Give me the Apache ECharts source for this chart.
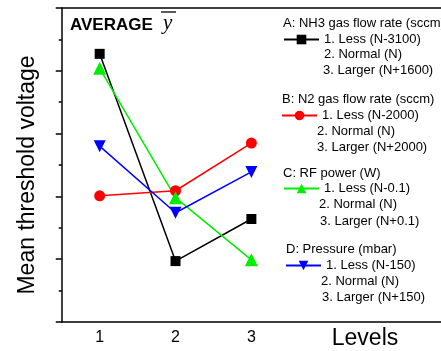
<!DOCTYPE html>
<html>
<head>
<meta charset="utf-8">
<script src="https://cdn.jsdelivr.net/npm/echarts@6/dist/echarts.min.js"></script>
<style>
  html, body { margin: 0; padding: 0; background: #fff; }
  #chart { width: 441px; height: 351px; }
</style>
</head>
<body>
<div id="chart"></div>
<script>
// levels on the x axis (4 and 5 have no label, only ticks)
const levels = ['1', '2', '3', '4', '5']
const levelLabels = ['1', '2', '3', '', '']

// mean threshold voltage per factor (arbitrary units)
const nh3Flow = [4.27, 0.97, 1.64]
const n2Flow = [2.01, 2.09, 2.85]
const rfPower = [4.04, 1.98, 0.99]
const pressure = [2.80, 1.74, 2.39]

const factorNames = ['A: NH3 gas flow rate (sccm)', 'B: N2 gas flow rate (sccm)', 'C: RF power (W)', 'D: Pressure (mbar)']
const levelTexts = [
  ['1. Less (N-3100)', '2. Normal (N)', '3. Larger (N+1600)'],
  ['1. Less (N-2000)', '2. Normal (N)', '3. Larger (N+2000)'],
  ['1. Less (N-0.1)', '2. Normal (N)', '3. Larger (N+0.1)'],
  ['1. Less (N-150)', '2. Normal (N)', '3. Larger (N+150)']
]

const font = 'Liberation Sans, Arial, sans-serif'
const chart = echarts.init(document.getElementById('chart'))

function text (str, x, y, size, extra) {
  return {
    type: 'text',
    x: x,
    y: y,
    silent: true,
    style: Object.assign({
      text: str,
      fill: '#000',
      fontSize: size,
      fontFamily: font,
      verticalAlign: 'middle'
    }, extra || {})
  }
}

// legend block positions: heading, icon, line 2, line 3
const legendPos = [
  { hx: 283, hy: 23, ix: 283, iy: 39, l2: [324, 54], l3: [323, 70] },
  { hx: 282, hy: 99, ix: 281, iy: 115, l2: [317, 131], l3: [317, 147] },
  { hx: 283, hy: 173, ix: 283, iy: 188, l2: [319, 204], l3: [320, 221] },
  { hx: 286, hy: 249, ix: 285, iy: 265, l2: [321, 281], l3: [322, 297] }
]

const seriesNames = ['A', 'B', 'C', 'D']

const graphics = [
  text('AVERAGE', 70, 25, 17, { fontWeight: 'bold' }),
  text('y', 163, 23, 21, { fontFamily: 'Liberation Serif, serif', fontStyle: 'italic' }),
  { type: 'line', silent: true, shape: { x1: 161, y1: 12, x2: 176, y2: 12 }, style: { stroke: '#000', lineWidth: 1.3 } },
  text('Mean threshold voltage', 28, 175, 23, { align: 'center' }),
  text('Levels', 365, 339, 23, { align: 'center' })
]
graphics[3].rotation = Math.PI / 2

legendPos.forEach((p, i) => {
  graphics.push(text(factorNames[i], p.hx, p.hy, 13))
  graphics.push(text(levelTexts[i][1], p.l2[0], p.l2[1], 13))
  graphics.push(text(levelTexts[i][2], p.l3[0], p.l3[1], 13))
})

const legends = legendPos.map((p, i) => ({
  data: [seriesNames[i]],
  left: p.ix,
  top: p.iy - 6,
  padding: 0,
  itemWidth: 35,
  itemHeight: 12,
  selectedMode: false,
  formatter: () => levelTexts[i][0],
  textStyle: { color: '#000', fontSize: 13, fontFamily: font }
}))

function lineSeries (name, data, color, symbol, size, rotate) {
  return {
    name: name,
    type: 'line',
    data: data,
    symbol: symbol,
    symbolSize: size,
    symbolRotate: rotate || 0,
    color: color,
    lineStyle: { color: color, width: 1.5 },
    itemStyle: { color: color },
    animation: false
  }
}

const option = {
  animation: false,
  grid: { left: 61.75, right: -3.25, top: 8, bottom: 29 },
  legend: legends,
  graphic: graphics,
  xAxis: [
    {
      type: 'category',
      data: levels,
      position: 'bottom',
      boundaryGap: true,
      axisLine: { lineStyle: { color: '#000', width: 1.5 } },
      axisTick: { alignWithLabel: true, length: 6, lineStyle: { color: '#000', width: 1.5 } },
      axisLabel: {
        formatter: (v, i) => levelLabels[i],
        color: '#000',
        fontSize: 16,
        fontFamily: font,
        margin: 8
      }
    },
    {
      type: 'category',
      data: levels,
      position: 'bottom',
      boundaryGap: true,
      axisLine: { show: false },
      axisTick: { length: 3, lineStyle: { color: '#000', width: 1.5 } },
      axisLabel: { show: false }
    },
    {
      type: 'category',
      data: levels,
      position: 'top',
      boundaryGap: true,
      axisLine: { lineStyle: { color: '#000', width: 1.5 } },
      axisTick: { alignWithLabel: true, length: 2, lineStyle: { color: '#000', width: 1.5 } },
      axisLabel: { show: false }
    }
  ],
  yAxis: {
    type: 'value',
    min: 0,
    max: 5,
    interval: 1,
    axisLine: { show: true, lineStyle: { color: '#000', width: 1.5 } },
    axisTick: { show: true, length: 6, lineStyle: { color: '#000', width: 1.5 } },
    minorTick: { show: true, splitNumber: 2, length: 3, lineStyle: { color: '#000', width: 1.5 } },
    axisLabel: { show: false },
    splitLine: { show: false }
  },
  series: [
    lineSeries('A', nh3Flow, '#000000', 'rect', 10),
    lineSeries('B', n2Flow, '#ff0000', 'circle', 11),
    lineSeries('C', rfPower, '#00ee00', 'triangle', 13),
    lineSeries('D', pressure, '#0000ff', 'triangle', 12, 180)
  ]
}

chart.setOption(option)
</script>
</body>
</html>
